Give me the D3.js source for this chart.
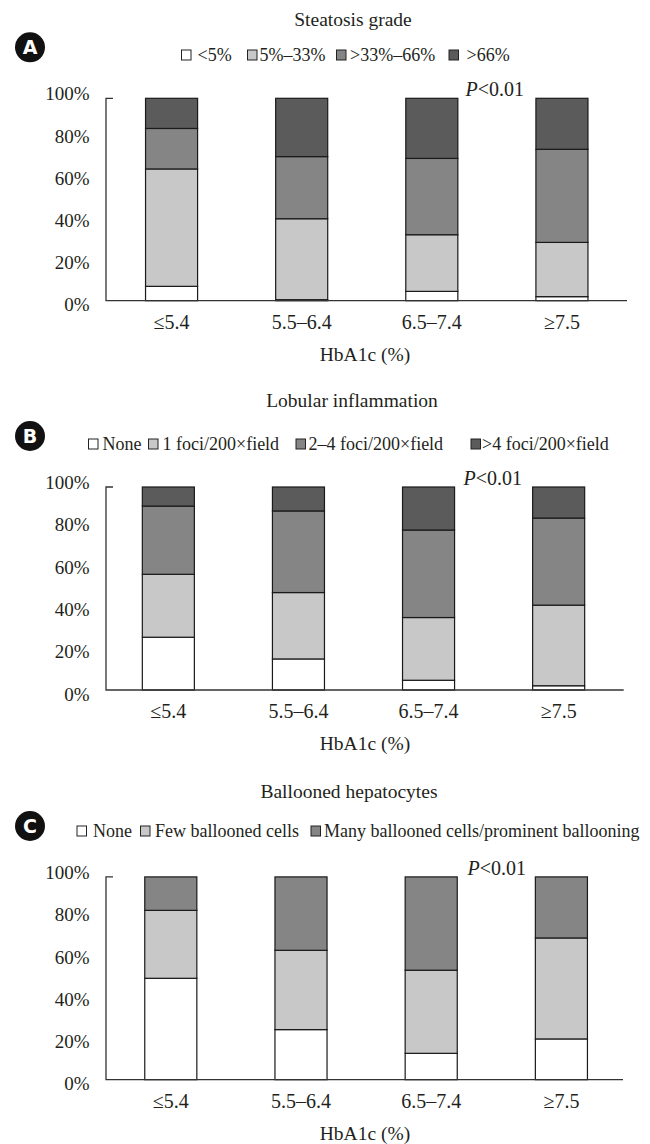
<!DOCTYPE html>
<html><head><meta charset="utf-8">
<script src="https://cdn.jsdelivr.net/npm/d3@7"></script>
<style>body{margin:0;background:#fff}svg{display:block}text{font-family:"Liberation Serif","Times New Roman",serif;fill:#231f20}</style>
</head><body><svg id="c" width="650" height="1144"></svg>
<script>
const categories = ["≤5.4", "5.5–6.4", "6.5–7.4", "≥7.5"];
const yTickValues = [0, 20, 40, 60, 80, 100];
const xAxisTitle = "HbA1c (%)";
const pText = "<0.01";

const steatosisTitle = "Steatosis grade";
const steatosisLabels = ["<5%", "5%–33%", ">33%–66%", ">66%"];
const steatosisLt5 = [7.1, 0.5, 4.6, 2.0];
const steatosis5to33 = [58.0, 40.0, 28.0, 26.8];
const steatosis33to66 = [20.0, 30.7, 37.7, 46.0];
const steatosisGt66 = [14.9, 28.8, 29.7, 25.2];

const lobularTitle = "Lobular inflammation";
const lobularLabels = ["None", "1 foci/200×field", "2–4 foci/200×field", ">4 foci/200×field"];
const lobularNone = [26.0, 15.3, 4.8, 2.1];
const lobular1 = [31.0, 32.7, 30.9, 39.7];
const lobular2to4 = [33.6, 40.2, 43.1, 42.9];
const lobularGt4 = [9.4, 11.8, 21.2, 15.3];

const balloonTitle = "Ballooned hepatocytes";
const balloonLabels = ["None", "Few ballooned cells", "Many ballooned cells/prominent ballooning"];
const balloonNone = [50.0, 24.7, 13.0, 20.1];
const balloonFew = [33.5, 39.1, 41.0, 49.8];
const balloonMany = [16.5, 36.2, 46.0, 30.1];

const svg = d3.select("#c");
const fills4 = ["#ffffff", "#c8c8c8", "#858585", "#5b5b5b"];
const fills3 = ["#ffffff", "#c8c8c8", "#858585"];
const serif = "'Liberation Serif','Times New Roman',serif";

function panel(cfg) {
  const g = svg.append("g");
  const keys = cfg.labels;
  const rows = categories.map((c, i) => {
    const o = {cat: c};
    cfg.series.forEach((s, k) => o[keys[k]] = s[i]);
    return o;
  });
  const stacked = d3.stack().keys(keys)(rows);
  const x = d3.scaleBand().domain(categories).range(cfg.xr).paddingInner(0.6).paddingOuter(0.3);
  const y = d3.scaleLinear().domain([0, 100]).range([cfg.y0, cfg.y100]);
  const labelShift = d3.scaleLinear().domain([0, 100]).range([4, -4.5]);

  // title
  g.append("text").attr("x", cfg.titleX).attr("y", cfg.titleY).attr("text-anchor", "middle")
    .style("font-size", "19.5px").text(cfg.title);
  // letter badge
  g.append("circle").attr("cx", 30).attr("cy", cfg.badgeY).attr("r", 15).attr("fill", "#111");
  g.append("text").attr("x", 30).attr("y", cfg.badgeY + 6.8).attr("text-anchor", "middle")
    .style("font-family", "'DejaVu Sans',Arial,sans-serif").style("font-weight", "bold")
    .style("font-size", "19px").style("fill", "#fff").text(cfg.letter);
  // legend
  keys.forEach((k, i) => {
    g.append("rect").attr("x", cfg.legSq[i]).attr("y", cfg.legY - 5).attr("width", 9.5).attr("height", 10)
      .attr("fill", cfg.fills[i]).attr("stroke", "#222").attr("stroke-width", 1);
    g.append("text").attr("x", cfg.legTx[i]).attr("y", cfg.legY + 5.5).style("font-size", "18px").text(k);
  });

  // bars
  g.selectAll("g.layer").data(stacked).join("g").attr("class", "layer")
    .attr("fill", (d, i) => cfg.fills[i])
    .selectAll("rect").data(d => d).join("rect")
    .attr("x", d => x(d.data.cat)).attr("width", x.bandwidth())
    .attr("y", d => y(d[1])).attr("height", d => y(d[0]) - y(d[1]))
    .attr("stroke", "#1a1a1a").attr("stroke-width", 1.2);

  // y axis
  const ya = d3.axisLeft(y).tickValues(yTickValues).tickSize(0).tickPadding(16.5).tickFormat(d => d + "%");
  const yg = g.append("g").attr("transform", `translate(106,0)`).call(ya);
  yg.select(".domain").remove();
  yg.selectAll("text").attr("y", d => labelShift(d))
    .style("font-size", "19px").style("font-family", serif).style("fill", "#231f20");
  g.append("path").attr("d", `M113,${cfg.y100}H106V${cfg.y0}H${cfg.xEnd}`).attr("fill", "none").attr("stroke", "#333").attr("stroke-width", 1.3);

  // x axis
  const xa = d3.axisBottom(x).tickSize(0).tickPadding(14);
  const xg = g.append("g").attr("transform", `translate(0,${cfg.y0})`).call(xa);
  xg.select(".domain").remove();
  xg.selectAll("text").style("font-size", "20px").style("font-family", serif).style("fill", "#231f20");
  g.append("text").attr("x", 365).attr("y", cfg.y0 + 60).attr("text-anchor", "middle").style("font-size", "19.5px").text(xAxisTitle);

  // P value
  const pt = g.append("text").attr("x", cfg.pX).attr("y", cfg.y100 - 2).style("font-size", "20px");
  pt.append("tspan").style("font-style", "italic").text("P");
  pt.append("tspan").text(pText);
}

panel({title: steatosisTitle, letter: "A", labels: steatosisLabels,
  series: [steatosisLt5, steatosis5to33, steatosis33to66, steatosisGt66], fills: fills4,
  xr: [106.5, 627], xEnd: 627, y0: 300.7, y100: 98.3, titleX: 353, titleY: 25.5, badgeY: 47.3,
  legY: 55, legSq: [181.5, 247.5, 336.5, 449], legTx: [197.5, 259.5, 350, 466.5], pX: 465.5});

panel({title: lobularTitle, letter: "B", labels: lobularLabels,
  series: [lobularNone, lobular1, lobular2to4, lobularGt4], fills: fills4,
  xr: [103.3, 623.7], xEnd: 623.7, y0: 690, y100: 487, titleX: 352, titleY: 407.3, badgeY: 436,
  legY: 444, legSq: [88.5, 148.5, 296, 471], legTx: [102.5, 162.5, 308.5, 482], pX: 463.5});

panel({title: balloonTitle, letter: "C", labels: balloonLabels,
  series: [balloonNone, balloonFew, balloonMany], fills: fills3,
  xr: [105.7, 626.5], xEnd: 623, y0: 1079.7, y100: 876.9, titleX: 349, titleY: 798.3, badgeY: 826,
  legY: 831, legSq: [77, 140.5, 311], legTx: [93, 155, 324], pX: 467.5});
</script></body></html>
